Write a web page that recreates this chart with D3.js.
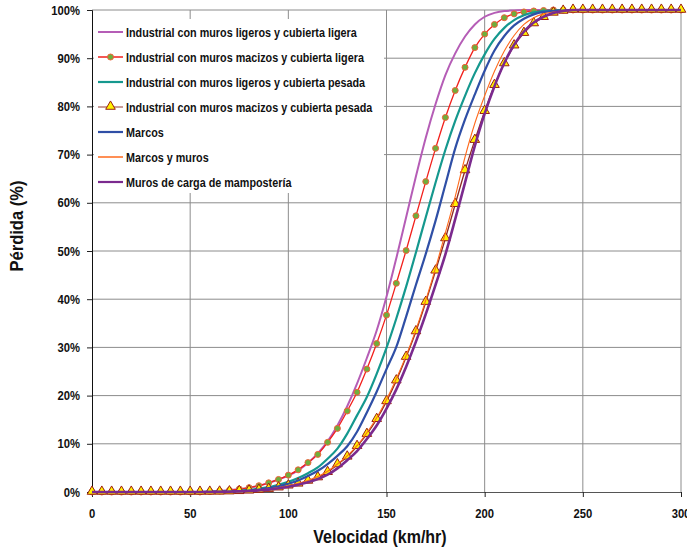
<!DOCTYPE html>
<html>
<head>
<meta charset="utf-8">
<script src="https://cdn.jsdelivr.net/npm/d3@7"></script>
<style>
  html, body { margin: 0; padding: 0; background: #fff; }
  svg { display: block; }
  text { font-family: "Liberation Sans", Arial, sans-serif; font-weight: bold; fill: #111; }
</style>
</head>
<body>
<script>
// ---- data ----
const velocities = d3.range(0, 305, 5); // 0..300 step 5 km/hr (x categories)
const xTicks = [0, 50, 100, 150, 200, 250, 300];
const yTicks = [0, 10, 20, 30, 40, 50, 60, 70, 80, 90, 100];
const seriesNames = [
  "Industrial con muros ligeros y cubierta ligera",
  "Industrial con muros macizos y cubierta ligera",
  "Industrial con muros ligeros y cubierta pesada",
  "Industrial con muros macizos y cubierta pesada",
  "Marcos",
  "Marcos y muros",
  "Muros de carga de mamposter\u00eda"
];
// values at 0,5,10,...,300 km/hr (% loss)
const ligerosLigera = [0,0,0,0,0,0,0,0,0,0,0,0,0.1,0.2,0.35,0.6,0.9,1.3,1.9,2.6,3.4,4.5,6.0,8.0,10.5,13.8,17.8,22.5,27.8,33.5,40.5,48.5,57,65.5,73.5,80.5,86.5,91,94.5,97,98.6,99.4,99.8,99.9,100,100,100,100,100,100,100,100,100,100,100,100,100,100,100,100,100];
const macizosLigera = [0,0,0,0,0,0,0,0,0,0,0,0,0.1,0.2,0.35,0.6,0.9,1.3,1.9,2.6,3.5,4.6,6.1,7.8,10.3,13.2,16.8,20.7,25.5,30.8,36.7,43.3,50.1,57.3,64.4,71.3,77.7,83.3,88.1,92.2,95.0,97.0,98.4,99.2,99.6,99.8,99.9,100,100,100,100,100,100,100,100,100,100,100,100,100,100];
const ligerosPesada = [0,0,0,0,0,0,0,0,0,0,0,0,0.03,0.08,0.15,0.25,0.45,0.7,1.0,1.5,2.1,2.9,3.9,5.1,6.9,9.0,12.1,15.9,19.7,24.5,29.9,36.0,42.6,49.7,57.0,64.2,71.0,77.0,82.2,86.9,90.8,94.0,96.3,97.9,98.9,99.5,99.8,99.9,100,100,100,100,100,100,100,100,100,100,100,100,100];
const macizosPesada = [0,0,0,0,0,0,0,0,0,0,0,0,0.01,0.03,0.08,0.15,0.25,0.4,0.6,0.9,1.3,1.7,2.3,3.0,4.1,5.7,7.3,9.5,12.0,15.1,18.8,23.1,28.0,33.3,39.4,45.9,52.6,59.7,66.7,73.0,79.0,84.4,88.9,92.6,95.2,97.2,98.5,99.4,99.8,100,100,100,100,100,100,100,100,100,100,100,100];
const marcos = [0,0,0,0,0,0,0,0,0,0,0,0,0.02,0.05,0.1,0.18,0.3,0.5,0.8,1.2,1.7,2.4,3.3,4.4,5.8,7.5,9.5,12.5,16.5,20.8,25.5,30.1,36.4,43.0,49.4,56.3,63.8,71.3,77.3,82.5,87.4,91.6,94.6,96.8,98.2,99.1,99.6,99.8,99.9,100,100,100,100,100,100,100,100,100,100,100,100];
const marcosMuros = [0,0,0,0,0,0,0,0,0,0,0,0,0.01,0.03,0.08,0.15,0.25,0.4,0.6,0.9,1.3,1.8,2.4,3.2,4.3,5.8,7.5,9.6,12.3,15.4,19.2,23.5,28.3,33.7,39.8,46.5,53.8,61.3,69.5,76.5,82.2,87.3,91.5,94.7,97.0,98.4,99.2,99.6,99.8,99.9,100,100,100,100,100,100,100,100,100,100,100];
const murosCarga = [0,0,0,0,0,0,0,0,0,0,0,0,0.01,0.02,0.06,0.12,0.2,0.33,0.5,0.78,1.1,1.5,2.0,2.7,3.6,4.9,6.6,8.5,11.0,13.8,17.3,21.3,26.0,31.2,36.9,43.0,49.3,56.6,64.2,71.8,78.5,84.2,89.0,92.8,95.5,97.4,98.6,99.4,99.8,100,100,100,100,100,100,100,100,100,100,100,100];

const seriesValues = [ligerosLigera, macizosLigera, ligerosPesada, macizosPesada, marcos, marcosMuros, murosCarga];
const seriesStyle = [
  { color: "#B55DB6", width: 2,   marker: null },
  { color: "#F2201C", width: 1.3, marker: "circle" },
  { color: "#15988E", width: 2.2, marker: null },
  { color: "#8E2A22", width: 1.3, marker: "triangle" },
  { color: "#2F4FA6", width: 2.2, marker: null },
  { color: "#FF6A1C", width: 1.1, marker: null },
  { color: "#7B2A8E", width: 2.6, marker: null }
];

// ---- layout ----
const W = 687, H = 550;
const svg = d3.select("body").append("svg").attr("width", W).attr("height", H);
const x = d3.scaleLinear().domain([0, 300]).range([92, 681]);
const y = d3.scaleLinear().domain([0, 100]).range([492, 10]);

// condensed-text helper (horizontal squeeze of a bold sans)
function ctext(parent, tx, ty, str, size, sx, anchor, rot) {
  return parent.append("text")
    .attr("transform", `translate(${tx},${ty})` + (rot ? ` rotate(${rot})` : "") + ` scale(${sx},1)`)
    .attr("text-anchor", anchor || "start")
    .style("font-size", size + "px")
    .text(str);
}

// gridlines
const grid = svg.append("g");
grid.selectAll("line.h").data(yTicks.filter(d => d > 0)).join("line")
  .attr("x1", x(0)).attr("x2", x(300)).attr("y1", d => y(d)).attr("y2", d => y(d))
  .attr("stroke", "#8c8c8c").attr("stroke-width", 1);
grid.selectAll("line.v").data(xTicks.filter(d => d > 0)).join("line")
  .attr("x1", d => x(d)).attr("x2", d => x(d)).attr("y1", y(0)).attr("y2", y(100))
  .attr("stroke", "#8c8c8c").attr("stroke-width", 1);

// axes (lines/ticks from d3 axes, labels as condensed text)
const xAxis = d3.axisBottom(x).tickValues(xTicks).tickSize(5).tickFormat("");
const gx = svg.append("g").attr("transform", `translate(0,${y(0)})`).call(xAxis);
gx.select(".domain").attr("stroke", "#555");
gx.selectAll(".tick line").attr("stroke", "#222");
const xLab = svg.append("g");
xTicks.forEach(t => ctext(xLab, x(t), 518, d3.format("d")(t), 12.5, 0.9, "middle"));

const yAxis = d3.axisLeft(y).tickValues(yTicks).tickSize(5).tickFormat("");
const gy = svg.append("g").attr("transform", `translate(${x(0)},0)`).call(yAxis);
gy.select(".domain").attr("stroke", "#111");
gy.selectAll(".tick line").attr("stroke", "#222");
const yLab = svg.append("g");
yTicks.forEach(t => ctext(yLab, 80, y(t) + 4.5, t + "%", 12.5, 0.9, "end"));

// axis titles
ctext(svg, 380, 543, "Velocidad (km/hr)", 18, 0.89, "middle");
ctext(svg, 23, 226, "P\u00e9rdida (%)", 18, 0.92, "middle", -90);

// legend background (covers gridlines)
const legend = svg.append("g");
legend.append("rect").attr("x", 94).attr("y", 19).attr("width", 290).attr("height", 174).attr("fill", "#fff");

// series
const line = d3.line().x((d, i) => x(velocities[i])).y(d => y(d)).curve(d3.curveMonotoneX);
const tri = d3.symbol().type(d3.symbolTriangle).size(40);

seriesValues.forEach((vals, si) => {
  const st = seriesStyle[si];
  svg.append("path").datum(vals).attr("d", line)
    .attr("fill", "none").attr("stroke", st.color).attr("stroke-width", st.width);
  if (st.marker === "circle") {
    svg.append("g").selectAll("circle").data(vals).join("circle")
      .attr("cx", (d, i) => x(velocities[i])).attr("cy", d => y(d)).attr("r", 3)
      .attr("fill", "#6FAE3C").attr("stroke", "#F0603A").attr("stroke-width", 1);
  } else if (st.marker === "triangle") {
    svg.append("g").selectAll("path").data(vals).join("path")
      .attr("d", tri).attr("transform", (d, i) => `translate(${x(velocities[i])},${y(d) - 0.5})`)
      .attr("fill", "#FFF200").attr("stroke", "#9A1E10").attr("stroke-width", 1);
  }
});

// legend entries
const legRowY = i => 32 + i * 25;
seriesNames.forEach((name, i) => {
  const st = seriesStyle[i];
  const lineColor = st.marker === "triangle" ? "#B87A74" : st.color;
  legend.append("line").attr("x1", 98).attr("x2", 123).attr("y1", legRowY(i)).attr("y2", legRowY(i))
    .attr("stroke", lineColor).attr("stroke-width", st.width > 2 ? 2.2 : Math.max(st.width, 1.5));
  if (st.marker === "circle") {
    legend.append("circle").attr("cx", 110.5).attr("cy", legRowY(i)).attr("r", 3)
      .attr("fill", "#6FAE3C").attr("stroke", "#F0603A");
  } else if (st.marker === "triangle") {
    legend.append("path").attr("d", tri).attr("transform", `translate(110.5,${legRowY(i) - 0.5})`)
      .attr("fill", "#FFF200").attr("stroke", "#9A1E10");
  }
  ctext(legend, 126, legRowY(i) + 4.6, name, 13, 0.83, "start");
});
</script>
</body>
</html>
